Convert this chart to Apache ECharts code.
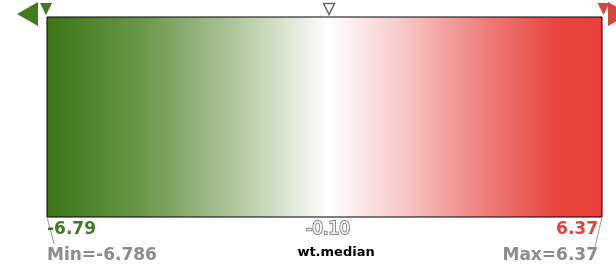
<!DOCTYPE html>
<html>
<head>
<meta charset="utf-8">
<script src="https://cdn.jsdelivr.net/npm/echarts@6/dist/echarts.min.js"></script>
<style>
html, body { margin: 0; padding: 0; background: #fff; }
#main { width: 616px; height: 268px; }
</style>
</head>
<body>
<div id="main"></div>
<script>
// scale range and median
var minVal = -6.786;
var maxVal = 6.37;
var medianVal = -0.10;
// gradient stops (value -> colour)
var stopValues = [-6.786, -4.5, -2.2, -0.10, 1.6, 3.6, 5.2, 6.37];
var stopColors = ['#3a7616', '#6a974a', '#b4c9a2', '#ffffff', '#f7c9c9', '#ef7d7a', '#e94741', '#e8403a'];
// text
var minLabel = '-6.79';
var maxLabel = '6.37';
var medianLabel = '-0.10';
var minText = 'Min=-6.786';
var maxText = 'Max=6.37';
var medianName = 'wt.median';

var green = '#3f7a1c';
var red = '#e8403a';
var grey = '#8c8c8c';
var font = 'DejaVu Sans';

var myChart = echarts.init(document.getElementById('main'));

function gradStops() {
    var arr = [];
    for (var i = 0; i < stopValues.length; i++) {
        arr.push({ offset: (stopValues[i] - minVal) / (maxVal - minVal), color: stopColors[i] });
    }
    return arr;
}

function txt(show, color, size, align, pos, extra) {
    var l = {
        show: true, formatter: show, color: color, fontFamily: font, fontWeight: 'bold',
        fontSize: size, align: align, verticalAlign: 'middle', position: pos, opacity: 1
    };
    for (var k in extra) { l[k] = extra[k]; }
    return l;
}

var option = {
    animation: false,
    grid: { left: 47, right: 14, top: 17, bottom: 51 },
    xAxis: { type: 'value', min: minVal, max: maxVal, show: false },
    yAxis: { type: 'value', min: 0, max: 1, show: false },
    series: [
        {
            // gradient box + leader lines
            type: 'custom',
            clip: false,
            data: [[minVal, 0, maxVal, 1]],
            renderItem: function (params, api) {
                var p0 = api.coord([api.value(0), api.value(1)]);
                var p1 = api.coord([api.value(2), api.value(3)]);
                return {
                    type: 'group',
                    children: [
                        {
                            type: 'rect',
                            shape: { x: p0[0], y: p1[1], width: p1[0] - p0[0], height: p0[1] - p1[1] },
                            style: {
                                fill: new echarts.graphic.LinearGradient(0, 0, 1, 0, gradStops()),
                                stroke: '#000', lineWidth: 1
                            }
                        },
                        {
                            type: 'line',
                            shape: { x1: p0[0], y1: p0[1], x2: p0[0] + 7, y2: p0[1] + 27 },
                            style: { stroke: '#999', lineWidth: 1 }
                        },
                        {
                            type: 'line',
                            shape: { x1: p1[0], y1: p0[1], x2: p1[0] - 7, y2: p0[1] + 30 },
                            style: { stroke: '#999', lineWidth: 1 }
                        }
                    ]
                };
            }
        },
        {
            // markers above the box
            type: 'scatter',
            clip: false,
            silent: true,
            itemStyle: { opacity: 1 },
            data: [
                { value: [minVal, 1], symbol: 'triangle', symbolSize: [24, 21], symbolRotate: 90, symbolOffset: [-19.5, -3], itemStyle: { color: green, opacity: 1 } },
                { value: [minVal, 1], symbol: 'triangle', symbolSize: [12, 12], symbolRotate: 180, symbolOffset: [-1, -8], itemStyle: { color: green, opacity: 1 } },
                { value: [medianVal, 1], symbol: 'triangle', symbolSize: [11, 11], symbolRotate: 180, symbolOffset: [0, -8], itemStyle: { color: '#fff', borderColor: '#666', borderWidth: 1.5, opacity: 1 } },
                { value: [maxVal, 1], symbol: 'triangle', symbolSize: [12, 12], symbolRotate: 180, symbolOffset: [1.5, -8], itemStyle: { color: '#d6443a', opacity: 1 } },
                { value: [maxVal, 1], symbol: 'triangle', symbolSize: [24, 21], symbolRotate: -90, symbolOffset: [16.5, -3], itemStyle: { color: '#d6443a', opacity: 1 } }
            ]
        },
        {
            // labels below the box
            type: 'scatter',
            clip: false,
            silent: true,
            symbolSize: 0,
            itemStyle: { opacity: 1 },
            data: [
                { value: [minVal, 0], label: txt(minLabel, green, 17, 'left', [0, 13]) },
                { value: [minVal, 0], label: txt(minText, grey, 17, 'left', [0, 39]) },
                { value: [maxVal, 0], label: txt(maxLabel, red, 17, 'right', [-4, 13]) },
                { value: [maxVal, 0], label: txt(maxText, grey, 17, 'right', [-4, 39]) },
                { value: [medianVal, 0], label: txt(medianLabel, '#fff', 17, 'center', [-1, 13], { fontWeight: 'normal', textBorderColor: '#888', textBorderWidth: 2 }) },
                { value: [medianVal, 0], label: txt(medianName, '#000', 13, 'center', [7, 36]) }
            ]
        }
    ]
};
myChart.setOption(option);
</script>
</body>
</html>
